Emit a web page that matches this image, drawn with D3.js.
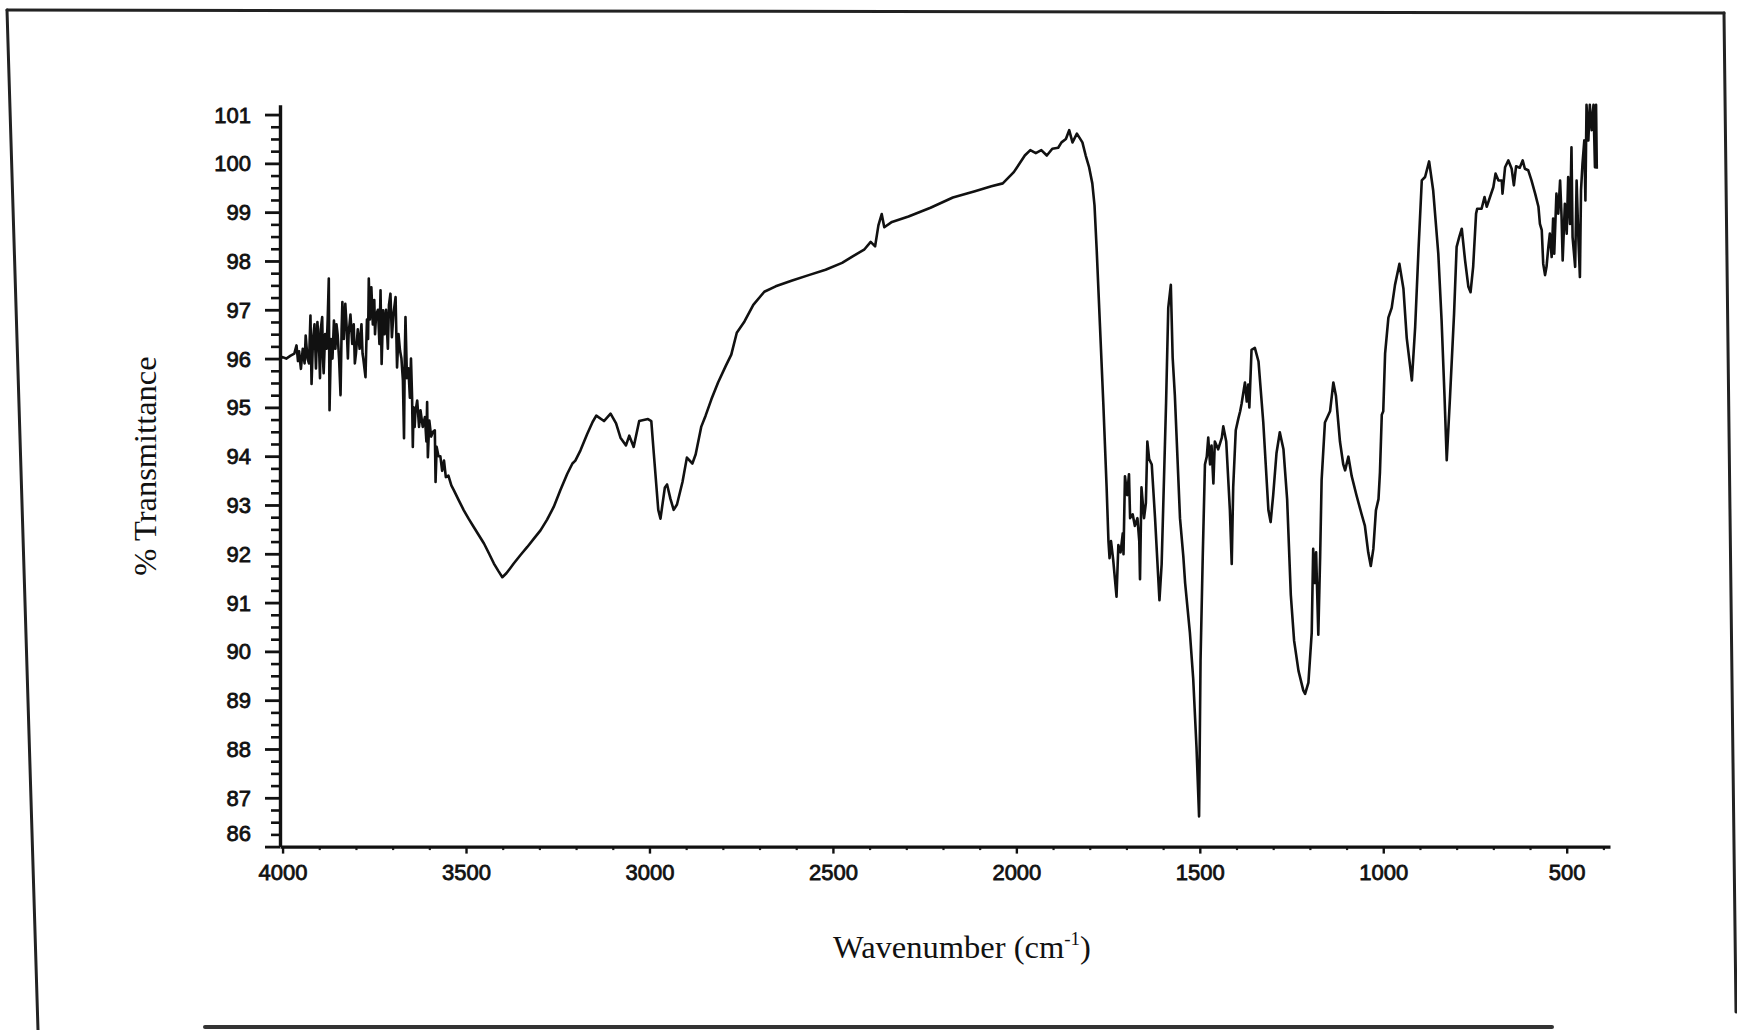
<!DOCTYPE html>
<html>
<head>
<meta charset="utf-8">
<script src="https://cdn.jsdelivr.net/npm/d3@7"></script>
<style>
html,body{margin:0;padding:0;background:#fff;}
svg{display:block;}
</style>
</head>
<body>
<svg id="chart" width="1737" height="1030"></svg>
<script>
// ---------- DATA ----------
const xTickLabels = [4000, 3500, 3000, 2500, 2000, 1500, 1000, 500];
const yTickLabels = [86, 87, 88, 89, 90, 91, 92, 93, 94, 95, 96, 97, 98, 99, 100, 101];
const xAxisTitle = "Wavenumber (cm";
const xAxisTitleSup = "-1";
const yAxisTitle = "% Transmittance";

// [wavenumber (cm-1), % transmittance]
const segmentNoisyOH = [
 [4007,96.0],[4000,96.03],[3990,96.0],[3978,96.06],[3968,96.1],[3962,96.27],[3958,95.95],[3955,96.15],[3950,95.79],[3945,96.2],
 [3940,95.9],[3937,96.47],[3932,96.0],[3928,95.9],[3924,96.88],[3921,95.48],[3917,96.4],[3913,96.7],[3909,95.8],[3905,96.75],[3900,96.1],
 [3898,95.6],[3896,96.6],[3892,96.85],[3890,96.0],[3888,95.7],[3884,96.5],[3880,96.2],[3877,96.8],[3874,97.64],[3872,94.94],[3868,96.4],[3864,96.0],[3860,96.78],
 [3856,96.2],[3853,96.7],[3850,96.5],[3846,96.0],[3842,95.25],[3839,96.6],[3837,97.16],[3833,96.4],[3829,97.12],[3825,96.6],[3822,96.0],[3820,96.5],
 [3815,96.9],[3810,96.3],[3806,96.7],[3803,95.9],[3800,96.1],[3795,96.6],[3790,96.2],[3785,96.7],[3782,96.1],[3780,96.0],[3774,95.62],[3770,96.8],
 [3767,96.4],[3765,97.64],[3762,96.8],[3758,97.46],[3754,96.7],[3750,97.2],[3748,96.5],[3745,96.9],[3740,97.0],[3736,96.3],[3733,97.4],[3730,95.89],
 [3726,96.99],[3722,96.5],[3718,97.0],[3713,96.2],[3710,97.1],[3706,97.33],[3702,96.44],[3698,96.9],[3692,97.26],[3688,95.82],[3684,96.5],
 [3680,96.17],[3676,96.0],[3672,95.55],[3669,94.37],[3667,96.0],[3665,96.85],[3661,95.6],[3657,95.8],[3653,95.2],[3650,96.0],
 [3647,95.21],[3645,94.19],[3643,95.0],[3640,94.6],[3638,94.9],[3633,95.14],[3628,94.6],[3624,94.94],[3618,94.6],[3612,94.8],[3608,94.3],
 [3606,95.11],[3604,93.98],[3600,94.73],[3595,94.4],[3590,94.5],[3585,94.53],[3583,93.47],[3580,94.19],[3575,94.0],[3570,94.0],
 [3565,93.7],[3560,93.91],[3555,93.57]
];
const segmentBroadBand = [
 [3548,93.6],[3540,93.4],[3533,93.3],[3520,93.1],[3506,92.89],[3493,92.72],[3479,92.55],[3465,92.38],[3451,92.21],[3437,92.0],
 [3424,91.8],[3412,91.65],[3401,91.52],[3390,91.6],[3380,91.7],[3370,91.8],[3352,91.97],[3333,92.14],[3315,92.31],[3297,92.48],
 [3279,92.7],[3261,92.96],[3243,93.3],[3224,93.64],[3210,93.85],[3202,93.91],[3188,94.12],[3170,94.45],[3155,94.7],[3145,94.83],
 [3124,94.72],[3106,94.87],[3091,94.67],[3079,94.38],[3064,94.22],[3055,94.42],[3043,94.19],[3028,94.72],[3004,94.76],[2995,94.72],
 [2988,94.04],[2976,92.9],[2970,92.72],[2958,93.36],[2952,93.42],[2943,93.13],[2934,92.9],[2925,93.01],[2910,93.47],[2898,93.97],
 [2883,93.85],[2874,94.04],[2859,94.6],[2847,94.83],[2831,95.17],[2813,95.51],[2792,95.85],[2777,96.08],[2762,96.53],[2741,96.76],
 [2717,97.1],[2687,97.37],[2656,97.48]
];
const segmentPlateau = [
 [2611,97.6],[2566,97.71],[2520,97.82],[2475,97.96],[2445,98.1],[2415,98.23],[2397,98.39],[2385,98.3],[2376,98.73],[2367,98.96],
 [2360,98.69],[2339,98.8],[2294,98.91],[2234,99.09],[2173,99.3],[2113,99.43],[2068,99.53],[2037,99.59],[2007,99.82],[1977,100.16],
 [1962,100.27],[1947,100.21],[1932,100.27],[1917,100.16],[1902,100.3],[1886,100.32],[1877,100.43],[1865,100.5],[1856,100.68],[1847,100.43],
 [1835,100.61],[1820,100.43],[1811,100.16],[1802,99.93],[1793,99.59],[1787,99.14]
];
const segmentFingerprint = [
 [1781,98.22],[1772,96.65],[1763,95.08],[1754,93.36],[1749,92.26],[1746,91.91],[1742,92.26],[1736,91.87],[1727,91.12],[1722,92.18],
 [1716,92.03],[1710,92.42],[1708,91.99],[1704,93.59],[1698,93.2],[1693,93.63],[1690,92.73],[1683,92.81],[1677,92.57],[1670,92.73],
 [1665,92.26],[1663,91.48],[1659,93.36],[1652,92.73],[1647,93.04],[1643,94.3],[1638,93.94],[1631,93.83],[1622,92.73],[1610,91.05],
 [1604,91.79],[1592,95.08],[1586,97.04],[1579,97.51],[1574,96.02],[1568,95.24],[1554,92.73],[1545,91.95],[1540,91.4],[1527,90.38],
 [1518,89.44],[1509,88.03],[1502,86.62],[1498,89.82],[1492,91.95],[1486,93.83],[1481,93.99],[1477,94.38],[1472,93.83],[1468,94.22],
 [1463,93.44],[1459,94.3],[1450,94.14],[1440,94.38],[1436,94.61],[1428,94.3],[1418,92.89],[1413,91.79],[1409,93.36],[1402,94.53],
 [1395,94.77],[1390,94.92],[1386,95.08],[1377,95.51],[1372,95.12],[1368,95.47],[1365,95.0],[1359,96.18],[1350,96.22],[1340,95.94],
 [1327,94.69],[1313,92.89],[1307,92.65],[1300,93.2],[1291,94.06],[1282,94.49],[1272,94.14],[1262,93.12],[1252,91.16],[1243,90.22],
 [1231,89.6],[1218,89.2],[1213,89.13],[1204,89.36],[1195,90.38],[1191,92.1],[1186,91.4],[1183,92.03],[1177,90.34],[1172,91.95],
 [1168,93.51],[1159,94.69],[1145,94.92],[1136,95.51],[1129,95.24],[1118,94.3],[1109,93.83],[1104,93.71],[1095,93.99],[1086,93.59],
 [1073,93.2],[1059,92.81],[1050,92.57],[1041,92.03],[1034,91.75],[1027,92.1],[1020,92.89],[1013,93.12],[1009,93.67],[1004,94.85],
 [1000,94.92],[995,96.1],[986,96.84],[977,97.04],[968,97.51],[956,97.94],[945,97.43],[936,96.42],[922,95.55],[913,96.65],[904,98.22]
];
const segmentLowWavenumber = [
 [895,99.65],[886,99.72],[875,100.04],[864,99.45],[850,98.15],[841,96.78],[833,95.22],[827,93.92],[818,95.22],[807,96.92],
 [800,98.29],[793,98.49],[786,98.66],[777,98.01],[768,97.47],[762,97.36],[755,97.88],[747,98.97],[744,99.07],[732,99.07],
 [724,99.31],[718,99.11],[709,99.31],[700,99.51],[694,99.79],[686,99.65],[677,99.65],[675,99.38],[668,99.92],[659,100.06],
 [650,99.89],[644,99.55],[638,99.94],[628,99.91],[620,100.06],[614,99.89],[605,99.86],[596,99.65],[586,99.38],[577,99.11],
 [573,98.76],[568,98.63],[564,97.94],[559,97.71],[555,97.88],[550,98.29],[546,98.56],[541,98.08],[537,98.87],[534,98.15],
 [528,99.38],[523,98.97],[518,99.65],[514,98.9],[511,98.01],[505,99.17],[500,98.56],[496,99.72],[491,98.76],[487,100.33],
 [484,98.49],[477,97.88],[473,99.65],[468,98.42],[464,97.67],[461,99.45],[457,99.99],[452,100.47],[449,99.24],[446,101.2],
 [441,100.47],[437,101.2],[432,100.68],[427,101.2],[423,99.92],[420,101.2],[418,99.89]
];
const spectrum = [].concat(segmentNoisyOH, segmentBroadBand, segmentPlateau, segmentFingerprint, segmentLowWavenumber);

// ---------- LAYOUT ----------
const svg = d3.select("#chart");
const axisX0 = 280, axisX1 = 1610, axisYBottom = 846.6, axisYTop = 104.8;
const x = d3.scaleLinear().domain([4007, 382]).range([axisX0, axisX1]);
const y = d3.scaleLinear().domain([86, 101.2]).range([axisYBottom, axisYTop]);

svg.append("rect").attr("width", 1737).attr("height", 1030).attr("fill", "#fff");

// scanned page frame
const frame = svg.append("g").attr("stroke", "#222").attr("fill", "none").attr("stroke-linecap", "round");
frame.append("path").attr("d", "M7,10 L1724,13").attr("stroke-width", 3);
frame.append("path").attr("d", "M7,10 L38,1030").attr("stroke-width", 3);
frame.append("path").attr("d", "M1724,13 L1736,1012").attr("stroke-width", 3);
frame.append("path").attr("d", "M205,1027 L1552,1027").attr("stroke-width", 4).attr("stroke", "#333");

const labelFont = "'Liberation Sans', Arial, sans-serif";
const titleFont = "'Liberation Serif', 'Times New Roman', serif";

// Y axis minor ticks
const yMinor = d3.range(86, 101.01, 0.25).filter(v => Math.abs(v - Math.round(v)) > 1e-6);
const gyMinor = svg.append("g").attr("transform", `translate(${axisX0},0)`)
  .call(d3.axisLeft(y).tickValues(yMinor).tickSize(9).tickSizeOuter(0).tickFormat(""));
gyMinor.select(".domain").remove();
gyMinor.selectAll(".tick line").attr("stroke", "#111").attr("stroke-width", 2.6);

// Y axis major
const gy = svg.append("g").attr("transform", `translate(${axisX0},0)`)
  .call(d3.axisLeft(y).tickValues(yTickLabels).tickSize(15).tickSizeOuter(0).tickPadding(14).tickFormat(d3.format("d")));
gy.select(".domain").attr("stroke", "#111").attr("stroke-width", 3.4);
gy.selectAll(".tick line").attr("stroke", "#111").attr("stroke-width", 2.8);
gy.selectAll(".tick text")
  .attr("font-family", labelFont).attr("font-size", 22).attr("fill", "#111")
  .attr("stroke", "#111").attr("stroke-width", 0.8)
  .attr("dy", d => d === 86 ? "-0.28em" : "0.34em");

// X axis minor ticks
const xMinor = d3.range(3900, 399, -100).filter(v => v % 500 !== 0);
const gxMinor = svg.append("g").attr("transform", `translate(0,${axisYBottom})`)
  .call(d3.axisBottom(x).tickValues(xMinor).tickSize(3.5).tickSizeOuter(0).tickFormat(""));
gxMinor.select(".domain").remove();
gxMinor.selectAll(".tick line").attr("stroke", "#222").attr("stroke-width", 2.2);

// X axis major
const gx = svg.append("g").attr("transform", `translate(0,${axisYBottom})`)
  .call(d3.axisBottom(x).tickValues(xTickLabels).tickSize(7).tickSizeOuter(0).tickPadding(11).tickFormat(d3.format("d")));
gx.select(".domain").attr("stroke", "#111").attr("stroke-width", 3.4);
gx.selectAll(".tick line").attr("stroke", "#111").attr("stroke-width", 2.4);
gx.selectAll(".tick text")
  .attr("font-family", labelFont).attr("font-size", 22).attr("fill", "#111")
  .attr("stroke", "#111").attr("stroke-width", 0.8);

// Spectrum line
const line = d3.line().x(d => x(d[0])).y(d => y(d[1]));
svg.append("path").datum(spectrum)
  .attr("d", line)
  .attr("fill", "none").attr("stroke", "#111").attr("stroke-width", 2.6)
  .attr("stroke-linejoin", "round");

// Titles
const xt = svg.append("text")
  .attr("x", 962).attr("y", 958).attr("text-anchor", "middle")
  .attr("font-family", titleFont).attr("font-size", 32.5).attr("fill", "#111");
xt.append("tspan").text(xAxisTitle);
xt.append("tspan").attr("font-size", 19).attr("dy", -13).text(xAxisTitleSup);
xt.append("tspan").attr("dy", 13).text(")");

svg.append("text")
  .attr("transform", "translate(156,466) rotate(-90)")
  .attr("text-anchor", "middle")
  .attr("font-family", titleFont).attr("font-size", 32.5).attr("fill", "#111")
  .text(yAxisTitle);
</script>
</body>
</html>
